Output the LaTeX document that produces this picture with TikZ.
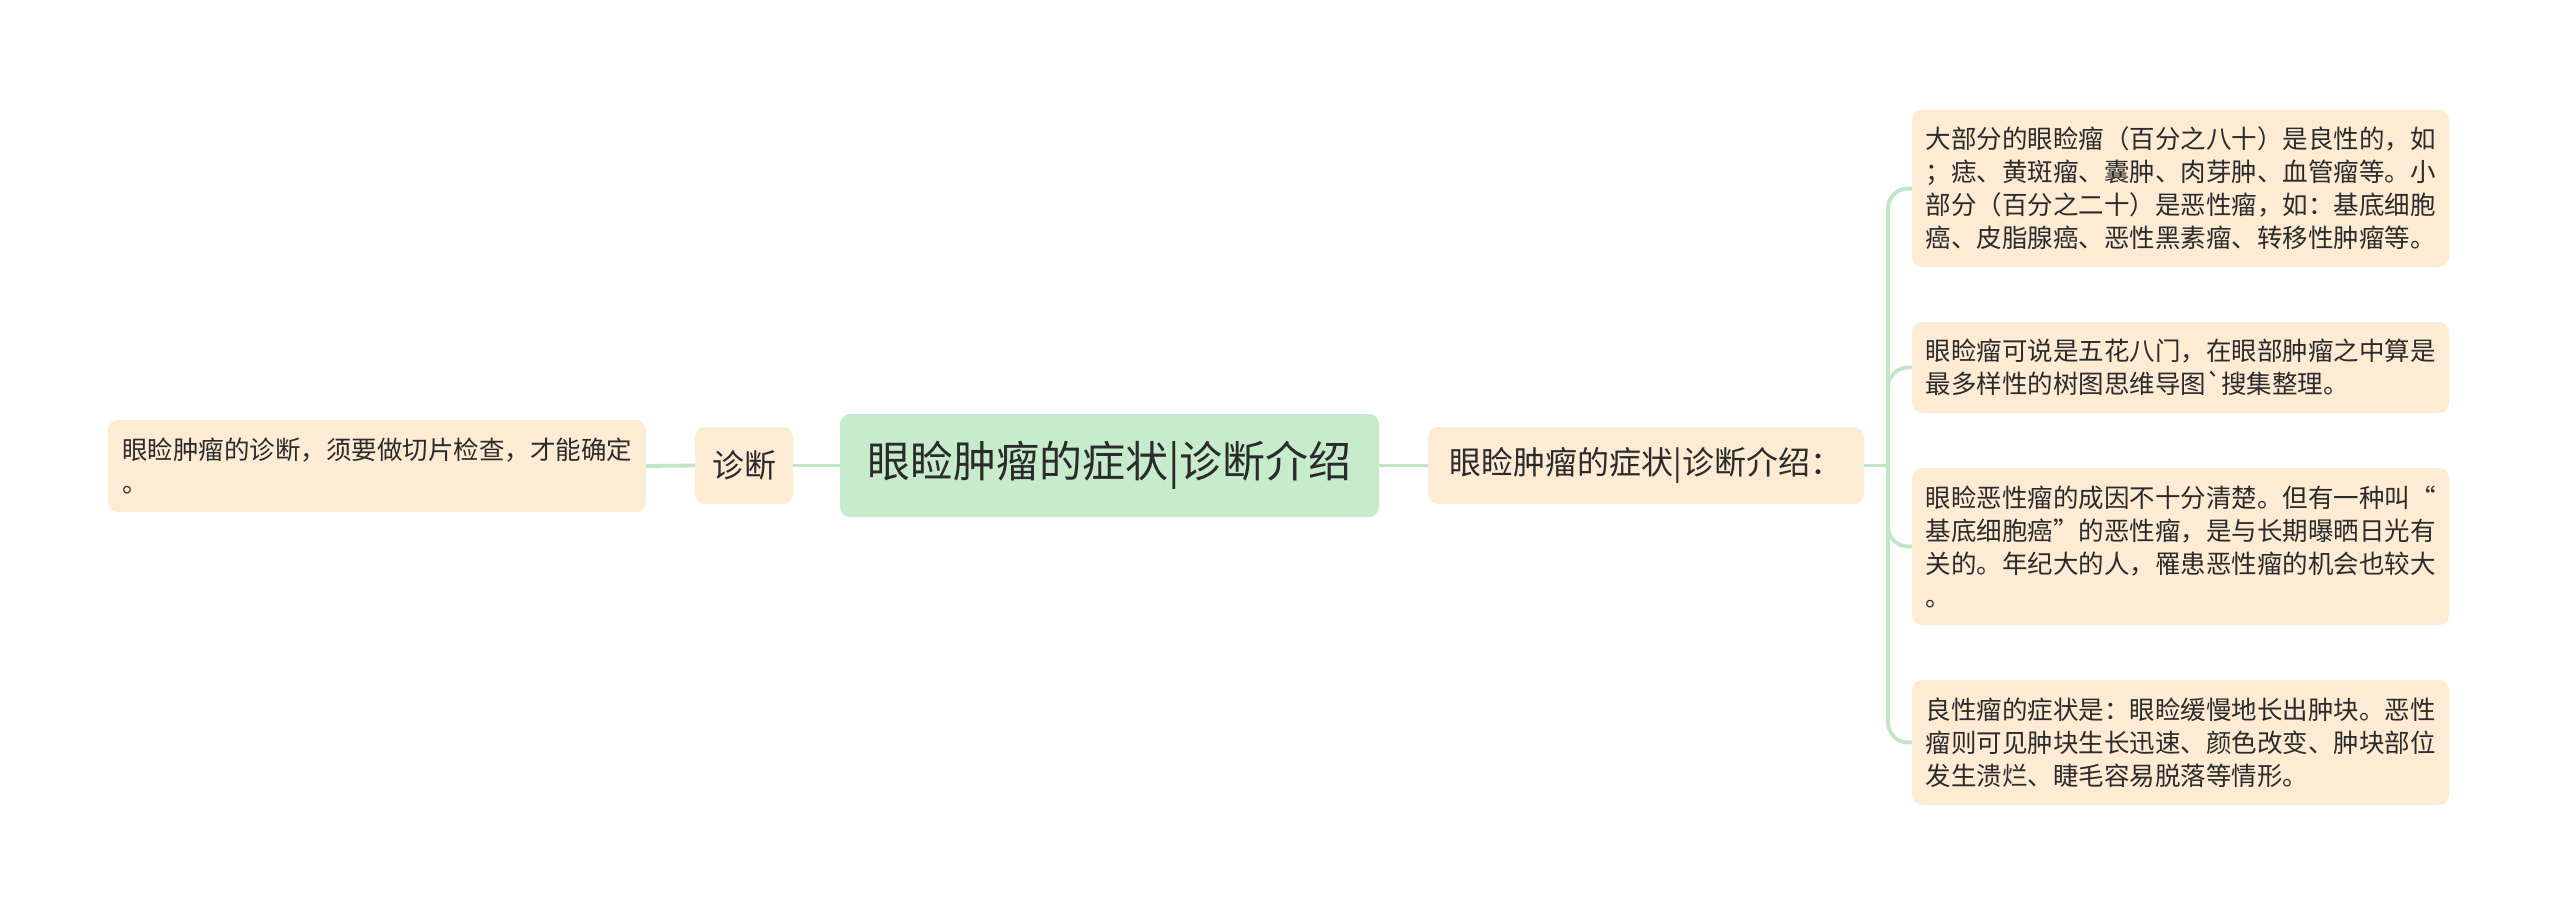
\documentclass[tikz,border=0pt]{standalone}
\usepackage{fontspec}
\newfontfamily\cjk{Noto Sans CJK SC}[Ligatures=TeXOff]
\definecolor{linec}{HTML}{BFE6C6}
\definecolor{boxc}{HTML}{FDEBD4}
\definecolor{rootc}{HTML}{C6ECCB}
\definecolor{txtc}{HTML}{2B2B2B}
\begin{document}
\begin{tikzpicture}[x=1pt,y=-1pt,
  base/.style={rounded corners=10pt, inner sep=0pt, text=txtc, font=\cjk},
  leaf/.style={base, fill=boxc, text width=510pt, minimum width=537pt, align=left,
    font=\cjk\fontsize{25.5}{33}\selectfont},
  mid/.style={base, fill=boxc, minimum height=77pt, align=center,
    font=\cjk\fontsize{32}{38}\selectfont},
  rootbox/.style={base, fill=rootc, minimum width=539pt, minimum height=103pt,
    font=\cjk\fontsize{43}{50}\selectfont},
  conn/.style={draw=linec, line width=3.8pt},
  bendconn/.style={conn, rounded corners=20pt}]
\useasboundingbox (0,0) rectangle (2560,915);
\fill[white] (0,0) rectangle (2560,915);

\node[rootbox] (root) at (1109.5,465.5) {眼睑肿瘤的症状|诊断介绍};
\node[mid, minimum width=98pt] (zd) at (744,465.5) {诊断};
\node[mid, minimum width=436pt] (rc) at (1646,465.5) {眼睑肿瘤的症状|诊断介绍：};
\node[leaf, minimum width=538pt, minimum height=92pt] (ll) at (377,466)
  {眼睑肿瘤的诊断，须要做切片检查，才能确定\\。};

\node[leaf, minimum height=157pt] (l1) at (2180.5,188.5)
  {大部分的眼睑瘤（百分之八十）是良性的，如\\；痣、黄斑瘤、囊肿、肉芽肿、血管瘤等。小\\部分（百分之二十）是恶性瘤，如：基底细胞\\癌、皮脂腺癌、恶性黑素瘤、转移性肿瘤等。};
\node[leaf, minimum height=91pt] (l2) at (2180.5,367.5)
  {眼睑瘤可说是五花八门，在眼部肿瘤之中算是\\最多样性的树图思维导图`搜集整理。};
\node[leaf, minimum height=157pt] (l3) at (2180.5,546.5)
  {眼睑恶性瘤的成因不十分清楚。但有一种叫“\\基底细胞癌”的恶性瘤，是与长期曝晒日光有\\关的。年纪大的人，罹患恶性瘤的机会也较大\\。};
\node[leaf, minimum height=125pt] (l4) at (2180.5,742.5)
  {良性瘤的症状是：眼睑缓慢地长出肿块。恶性\\瘤则可见肿块生长迅速、颜色改变、肿块部位\\发生溃烂、睫毛容易脱落等情形。};

\coordinate (tr) at (1888,465.5);
\draw[conn] (root.east) -- (rc.west);
\draw[conn] (root.west) -- (zd.east);
\draw[conn] (zd.west) -- (ll.east);
\draw[conn] (rc.east) -- (tr);
\foreach \l in {l1,l2,l3,l4}{
  \draw[bendconn] (tr) |- (\l.west);
}
\end{tikzpicture}
\end{document}
